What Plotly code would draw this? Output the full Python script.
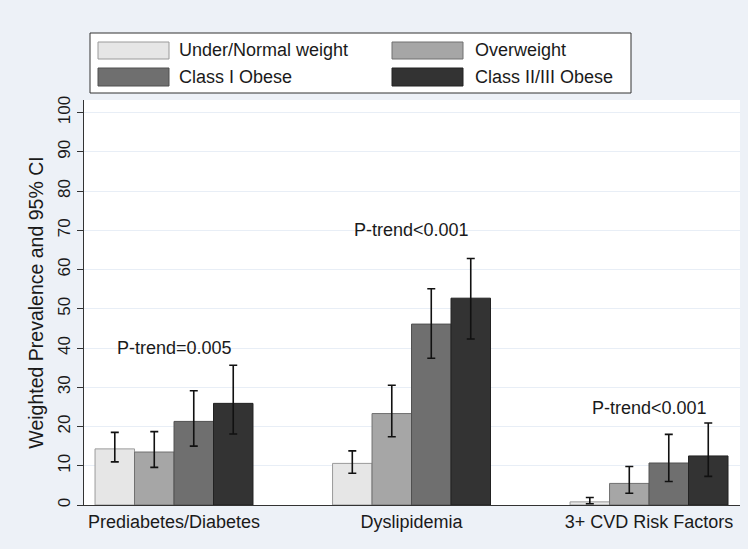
import plotly.graph_objects as go

categories = ["Prediabetes/Diabetes", "Dyslipidemia", "3+ CVD Risk Factors"]
series_names = ["Under/Normal weight", "Overweight", "Class I Obese", "Class II/III Obese"]

under_normal = [14.3, 10.6, 0.8]
under_normal_lo = [11.0, 8.1, 0.3]
under_normal_hi = [18.5, 13.8, 1.9]

overweight = [13.5, 23.3, 5.5]
overweight_lo = [9.6, 17.4, 3.0]
overweight_hi = [18.7, 30.5, 9.8]

class1 = [21.3, 46.1, 10.7]
class1_lo = [15.0, 37.4, 6.0]
class1_hi = [29.1, 55.1, 18.0]

class23 = [25.9, 52.7, 12.5]
class23_lo = [18.1, 42.3, 7.3]
class23_hi = [35.6, 62.8, 20.9]

ptrend_text = ["P-trend=0.005", "P-trend<0.001", "P-trend<0.001"]
ptrend_y = [40.0, 70.0, 24.6]

yticks = [0, 10, 20, 30, 40, 50, 60, 70, 80, 90, 100]

values = [under_normal, overweight, class1, class23]
lows = [under_normal_lo, overweight_lo, class1_lo, class23_lo]
highs = [under_normal_hi, overweight_hi, class1_hi, class23_hi]
colors = ["#e6e6e6", "#a6a6a6", "#6f6f6f", "#333333"]
line_colors = ["#9a9a9a", "#707070", "#505050", "#222222"]

FONT = "Liberation Sans, Arial, sans-serif"
TXT = "#1a1a1a"
xpos = list(range(len(categories)))

fig = go.Figure()
for name, v, lo, hi, c, lc in zip(series_names, values, lows, highs, colors, line_colors):
    fig.add_trace(go.Bar(
        x=xpos, y=v, name=name,
        marker=dict(color=c, line=dict(color=lc, width=1)),
        error_y=dict(type="data", symmetric=False,
                     array=[h - a for h, a in zip(hi, v)],
                     arrayminus=[a - l for a, l in zip(v, lo)],
                     color="#111111", thickness=1.6, width=4),
        showlegend=False,
    ))

annotations = []
for x, y, t in zip(xpos, ptrend_y, ptrend_text):
    annotations.append(dict(x=x, y=y, xref="x", yref="y", text=t, showarrow=False,
                            font=dict(size=18, color=TXT, family=FONT)))

# custom legend (drawn in paper coordinates)
shapes = []
L, R, T, B = 84, 740, 100, 505
def px_x(p):
    return (p - L) / float(R - L)
def px_y(p):
    return (B - p) / float(B - T)

shapes.append(dict(type="rect", xref="paper", yref="paper",
                   x0=px_x(90), x1=px_x(631), y0=px_y(93), y1=px_y(33),
                   line=dict(color="#333333", width=1), fillcolor="white", layer="above"))
sw_cols = [(98, 169, 178), (392, 463, 474)]
sw_rows = [(42, 59), (68, 86)]
for i, (name, c, lc) in enumerate(zip(series_names, colors, line_colors)):
    r, col = divmod(i, 2)
    x0, x1, tx = sw_cols[col]
    y0, y1 = sw_rows[r]
    shapes.append(dict(type="rect", xref="paper", yref="paper",
                       x0=px_x(x0), x1=px_x(x1), y0=px_y(y1), y1=px_y(y0),
                       line=dict(color=lc, width=1), fillcolor=c, layer="above"))
    annotations.append(dict(x=px_x(tx), y=px_y((y0 + y1) / 2), xref="paper", yref="paper",
                            text=name, showarrow=False, xanchor="left", yanchor="middle",
                            borderpad=0,
                            font=dict(size=18, color=TXT, family=FONT)))

fig.update_layout(
    width=748, height=549,
    margin=dict(l=L, r=748 - R, t=T, b=549 - B, autoexpand=False),
    paper_bgcolor="#edf1f7",
    plot_bgcolor="white",
    barmode="group", bargap=0.335, bargroupgap=0,
    font=dict(family=FONT, size=16, color=TXT),
    annotations=annotations,
    shapes=shapes,
    xaxis=dict(range=[-0.379, 2.383], tickvals=xpos, ticktext=categories,
               showgrid=False, zeroline=False, showline=True, linecolor="#333333",
               linewidth=1, ticks="", tickfont=dict(size=18), automargin=False,
               fixedrange=True),
    yaxis=dict(range=[0, 103.2], tickvals=yticks, showgrid=True, gridcolor="#e8eef6",
               gridwidth=1, zeroline=False, showline=True, linecolor="#333333", linewidth=1,
               ticks="outside", ticklen=6, tickcolor="#333333", tickangle=-90,
               tickfont=dict(size=17), automargin=False,
               title=dict(text="Weighted Prevalence and 95% CI", font=dict(size=19.5), standoff=6)),
)

fig.write_html("out.html", config={"displayModeBar": False},
               post_script="document.body.style.margin='0';document.body.style.overflow='hidden';")
